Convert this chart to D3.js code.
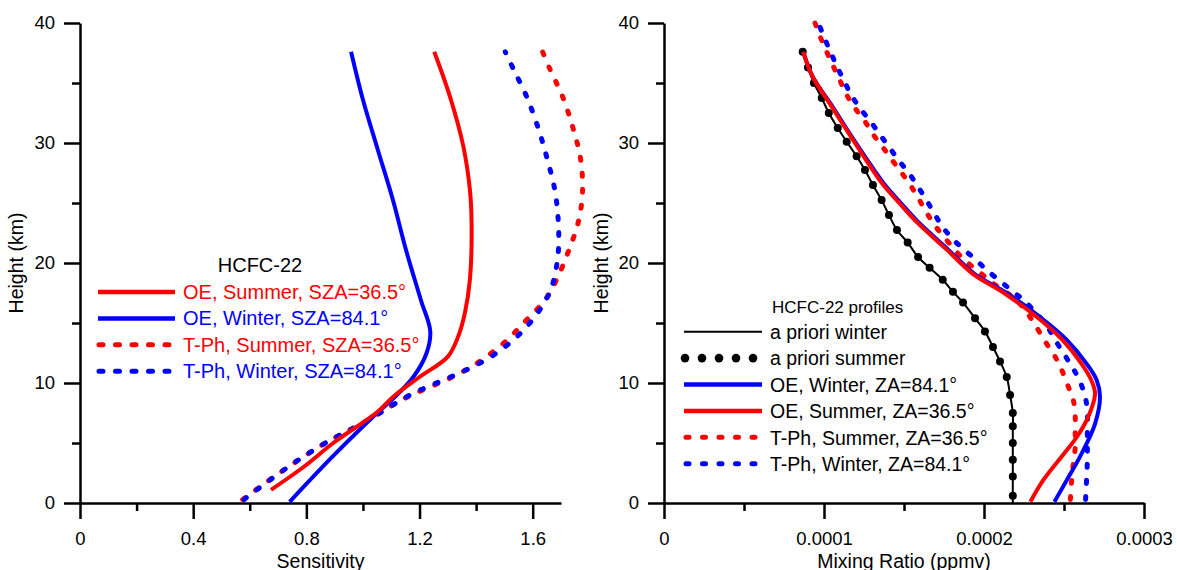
<!DOCTYPE html>
<html>
<head>
<meta charset="utf-8">
<script src="https://cdn.jsdelivr.net/npm/d3@7"></script>
<style>
  body { margin: 0; background: #fff; }
  svg { font-family: Arial, "Liberation Sans", sans-serif; }
</style>
</head>
<body>
<svg id="chart" width="1177" height="570"></svg>
<script>
// ---- left panel: sensitivity profiles, [height km, sensitivity]
const sensOESummer = [[1.1,0.675],[3,0.79],[5,0.895],[7.6,1.052],[8.86,1.107],[10.5,1.2],[12.2,1.3],[13.9,1.337],[15.8,1.36],[18.6,1.378],[23.3,1.384],[26.1,1.378],[29.7,1.355],[33.9,1.307],[37.6,1.252]];
const sensOEWinter = [[0.1,0.741],[3.9,0.894],[7.5,1.05],[8.7,1.107],[10.5,1.178],[12.5,1.225],[14.3,1.238],[16.9,1.205],[21.1,1.152],[25.25,1.106],[29.4,1.053],[33.6,1.0],[37.6,0.958]];
const sensTPhSummer = [[0.3,0.575],[2.75,0.72],[4.9,0.86],[6.8,1.01],[8.75,1.15],[10.4,1.307],[11.6,1.4],[13.3,1.496],[15.25,1.578],[16.9,1.643],[18.6,1.684],[20.9,1.725],[23.4,1.761],[25.9,1.776],[28.7,1.769],[31.2,1.743],[33.9,1.705],[36.2,1.66],[37.6,1.635]];
const sensTPhWinter = [[0.3,0.58],[2.75,0.72],[4.9,0.86],[6.8,1.01],[9,1.166],[10,1.26],[11.1,1.366],[12.3,1.46],[14.1,1.555],[16.1,1.625],[18,1.667],[20.8,1.69],[23.6,1.69],[26.1,1.678],[28.7,1.651],[31.2,1.62],[33.9,1.578],[36.2,1.531],[37.6,1.503]];

// ---- right panel: mixing ratio profiles, [height km, ppmv]
const aprioriWinter = [[0,2.18e-4],[2.75,2.18e-4],[4.4,2.18e-4],[5.9,2.18e-4],[7.5,2.18e-4],[9,2.163e-4],[10.5,2.142e-4],[11.8,2.1e-4],[13,2.056e-4],[14.3,2.006e-4],[15.4,1.944e-4],[16.7,1.869e-4],[17.6,1.806e-4],[18.6,1.742e-4],[19.6,1.66e-4],[20.5,1.588e-4],[21.7,1.523e-4],[22.75,1.456e-4],[24,1.406e-4],[25.25,1.36e-4],[26.5,1.306e-4],[27.75,1.256e-4],[28.9,1.204e-4],[30.1,1.142e-4],[31.25,1.086e-4],[32.5,1.03e-4],[33.75,0.986e-4],[35,0.937e-4],[36.3,0.9e-4],[37.6,0.867e-4]];
const aprioriSummer = [[0.6,2.18e-4],[2.2,2.18e-4],[3.6,2.18e-4],[5,2.18e-4],[6.4,2.18e-4],[7.5,2.18e-4],[9,2.163e-4],[10.5,2.142e-4],[11.8,2.1e-4],[13,2.056e-4],[14.3,2.006e-4],[15.4,1.944e-4],[16.7,1.869e-4],[17.6,1.806e-4],[18.6,1.742e-4],[19.6,1.66e-4],[20.5,1.588e-4],[21.7,1.523e-4],[22.75,1.456e-4],[24,1.406e-4],[25.25,1.36e-4],[26.5,1.306e-4],[27.75,1.256e-4],[28.9,1.204e-4],[30.1,1.142e-4],[31.25,1.086e-4],[32.5,1.03e-4],[33.75,0.986e-4],[35,0.937e-4],[36.3,0.9e-4],[37.6,0.867e-4]];
const mixOEWinter = [[0.1,2.44e-4],[1.9,2.517e-4],[3.86,2.6e-4],[6.6,2.694e-4],[8.86,2.725e-4],[10.25,2.704e-4],[11.6,2.642e-4],[13.6,2.517e-4],[15.5,2.35e-4],[17.5,2.142e-4],[19.1,1.94e-4],[21.2,1.77e-4],[23.4,1.59e-4],[25,1.48e-4],[26.6,1.375e-4],[28.6,1.27e-4],[30.7,1.165e-4],[33.3,1.04e-4],[35.5,0.93e-4],[37.6,0.87e-4]];
const mixOESummer = [[0.1,2.29e-4],[1.9,2.37e-4],[4.4,2.517e-4],[5.5,2.58e-4],[7.2,2.652e-4],[9.1,2.694e-4],[10.25,2.67e-4],[11.6,2.61e-4],[13.6,2.49e-4],[15.5,2.33e-4],[17.5,2.125e-4],[19.1,1.93e-4],[21.2,1.76e-4],[23.4,1.58e-4],[25,1.47e-4],[26.6,1.365e-4],[28.6,1.262e-4],[30.7,1.16e-4],[33.3,1.035e-4],[35.5,0.93e-4],[37.6,0.87e-4]];
const mixTPhSummer = [[0.3,2.54e-4],[1.9,2.548e-4],[3.3,2.558e-4],[4.6,2.57e-4],[5.8,2.57e-4],[7.2,2.57e-4],[8.6,2.558e-4],[9.7,2.527e-4],[11.1,2.485e-4],[12.2,2.444e-4],[13.3,2.39e-4],[14.4,2.34e-4],[15.7,2.277e-4],[16.9,2.204e-4],[18.3,2.058e-4],[19.2,1.975e-4],[20,1.9e-4],[20.9,1.83e-4],[21.9,1.767e-4],[23,1.7e-4],[24.05,1.648e-4],[25.25,1.596e-4],[26.4,1.544e-4],[27.5,1.486e-4],[28.5,1.43e-4],[29.6,1.37e-4],[30.7,1.308e-4],[31.8,1.256e-4],[32.9,1.194e-4],[34,1.142e-4],[35.2,1.1e-4],[36.4,1.058e-4],[37.6,1.017e-4],[38.9,0.975e-4],[40,0.944e-4]];
const mixTPhWinter = [[0.3,2.635e-4],[2.2,2.642e-4],[3.6,2.646e-4],[5,2.646e-4],[6.2,2.646e-4],[7.6,2.646e-4],[9,2.63e-4],[10.4,2.59e-4],[11.4,2.548e-4],[12.5,2.496e-4],[13.6,2.444e-4],[14.8,2.39e-4],[16.8,2.256e-4],[17.6,2.183e-4],[19.3,2.027e-4],[20.25,1.95e-4],[21.1,1.877e-4],[22,1.804e-4],[23,1.742e-4],[24.1,1.69e-4],[25.3,1.638e-4],[26.4,1.585e-4],[27.5,1.53e-4],[28.5,1.47e-4],[29.6,1.41e-4],[30.7,1.35e-4],[31.8,1.29e-4],[32.9,1.225e-4],[34,1.17e-4],[35.2,1.125e-4],[36.4,1.08e-4],[37.6,1.04e-4],[38.9,0.998e-4],[40,0.965e-4]];

// ---- ticks
const heightMajor = [0, 10, 20, 30, 40];
const heightMinor = [5, 15, 25, 35];
const sensMajor = [0, 0.4, 0.8, 1.2, 1.6];
const sensMinor = [0.2, 0.6, 1.0, 1.4];
const mixMajor = [0, 0.0001, 0.0002, 0.0003];
const mixMinor = [0.00005, 0.00015, 0.00025];

const RED = '#ff0000';
const BLUE = '#0000ff';
const DOT = '3,13';

const svg = d3.select('#chart');

const yScale = d3.scaleLinear().domain([0, 40]).range([503, 23]);
const sensScale = d3.scaleLinear().domain([0, 1.7]).range([80, 561]);
const mixScale = d3.scaleLinear().domain([0, 0.0003]).range([664, 1144]);

const drawAxes = (xScale, xMaj, xMin, x0, title, titleX) => {
  const yMajAxis = d3.axisLeft(yScale).tickValues(heightMajor).tickSize(16).tickSizeOuter(0).tickPadding(9);
  const yMinAxis = d3.axisLeft(yScale).tickValues(heightMinor).tickSize(8).tickFormat('');
  const xMajAxis = d3.axisBottom(xScale).tickValues(xMaj).tickSize(16).tickSizeOuter(0).tickPadding(13).tickFormat(d => String(d));
  const xMinAxis = d3.axisBottom(xScale).tickValues(xMin).tickSize(8).tickFormat('');

  const g = svg.append('g');
  g.append('g').attr('transform', `translate(${x0},0)`).call(yMajAxis);
  g.append('g').attr('transform', `translate(${x0},0)`).call(yMinAxis).select('.domain').remove();
  g.append('g').attr('transform', 'translate(0,503)').call(xMajAxis);
  g.append('g').attr('transform', 'translate(0,503)').call(xMinAxis).select('.domain').remove();

  g.selectAll('.domain, .tick line').attr('stroke', '#000').attr('stroke-width', 2.5);
  g.selectAll('.tick text')
    .attr('font-size', 18.5)
    .attr('font-family', 'Arial, "Liberation Sans", sans-serif')
    .attr('fill', '#000');

  const [r0, r1] = xScale.range();
  g.append('text')
    .text(title)
    .attr('x', (r0 + r1) / 2)
    .attr('y', 568)
    .attr('text-anchor', 'middle')
    .attr('font-size', 19.5);
  g.append('text')
    .text('Height (km)')
    .attr('transform', `translate(${titleX},263) rotate(-90)`)
    .attr('text-anchor', 'middle')
    .attr('font-size', 19.5);
};

drawAxes(sensScale, sensMajor, sensMinor, 80, 'Sensitivity', 23);
drawAxes(mixScale, mixMajor, mixMinor, 664, 'Mixing Ratio (ppmv)', 608);

const curve = d3.curveCatmullRom.alpha(0.5);
const lineFor = xScale => d3.line().x(d => xScale(d[1])).y(d => yScale(d[0])).curve(curve);

const drawSeries = (data, xScale, color, width, dash) => {
  const p = svg.append('path')
    .datum(data)
    .attr('d', lineFor(xScale))
    .attr('fill', 'none')
    .attr('stroke', color)
    .attr('stroke-width', width)
    .attr('stroke-linejoin', 'round');
  if (dash) p.attr('stroke-dasharray', dash).attr('stroke-linecap', 'round');
};

// left panel curves
drawSeries(sensTPhSummer, sensScale, RED, 5, DOT);
drawSeries(sensTPhWinter, sensScale, BLUE, 5, DOT);
drawSeries(sensOEWinter, sensScale, BLUE, 4);
drawSeries(sensOESummer, sensScale, RED, 4);

// right panel curves
drawSeries(aprioriWinter, mixScale, '#000', 2);
svg.append('g')
  .selectAll('circle')
  .data(aprioriSummer)
  .enter()
  .append('circle')
  .attr('cx', d => mixScale(d[1]))
  .attr('cy', d => yScale(d[0]))
  .attr('r', 4)
  .attr('fill', '#000');
drawSeries(mixTPhSummer, mixScale, RED, 5, DOT);
drawSeries(mixTPhWinter, mixScale, BLUE, 5, DOT);
drawSeries(mixOEWinter, mixScale, BLUE, 4);
drawSeries(mixOESummer, mixScale, RED, 4);

// ---- legends
const leftLegend = [
  { label: 'OE, Summer, SZA=36.5°', color: RED, dash: null },
  { label: 'OE, Winter, SZA=84.1°', color: BLUE, dash: null },
  { label: 'T-Ph, Summer, SZA=36.5°', color: RED, dash: DOT },
  { label: 'T-Ph, Winter, SZA=84.1°', color: BLUE, dash: DOT }
];
const rightLegend = [
  { label: 'a priori winter', color: '#000', kind: 'thin' },
  { label: 'a priori summer', color: '#000', kind: 'dots' },
  { label: 'OE, Winter, ZA=84.1°', color: BLUE, kind: 'solid' },
  { label: 'OE, Summer, ZA=36.5°', color: RED, kind: 'solid' },
  { label: 'T-Ph, Summer, ZA=36.5°', color: RED, kind: 'dash' },
  { label: 'T-Ph, Winter, ZA=84.1°', color: BLUE, kind: 'dash' }
];

const lg = svg.append('g').attr('id', 'left-legend');
lg.append('text').text('HCFC-22').attr('x', 260).attr('y', 272).attr('text-anchor', 'middle').attr('font-size', 20);
leftLegend.forEach((d, i) => {
  const y = 292 + i * 26.4;
  const l = lg.append('line')
    .attr('x1', d.dash ? 99 : 98).attr('x2', 175).attr('y1', y).attr('y2', y)
    .attr('stroke', d.color).attr('stroke-width', d.dash ? 5 : 4.5);
  if (d.dash) l.attr('stroke-dasharray', '4,12.5').attr('stroke-linecap', 'round');
  lg.append('text').text(d.label).attr('x', 183).attr('y', y + 6.8).attr('font-size', 20).attr('fill', d.color);
});

const rg = svg.append('g').attr('id', 'right-legend');
rg.append('text').text('HCFC-22 profiles').attr('x', 772).attr('y', 312.5).attr('font-size', 17);
rightLegend.forEach((d, i) => {
  const y = 331.7 + i * 26.4;
  if (d.kind === 'dots') {
    rg.selectAll(null)
      .data(d3.range(5))
      .enter()
      .append('circle')
      .attr('cx', k => 685 + k * 17)
      .attr('cy', y)
      .attr('r', 4.3)
      .attr('fill', d.color);
  } else {
    const l = rg.append('line')
      .attr('x1', d.kind === 'dash' ? 686 : 684).attr('x2', 762).attr('y1', y).attr('y2', y)
      .attr('stroke', d.color)
      .attr('stroke-width', d.kind === 'thin' ? 2 : d.kind === 'dash' ? 5 : 4.5);
    if (d.kind === 'dash') l.attr('stroke-dasharray', '3,13.5').attr('stroke-linecap', 'round');
  }
  rg.append('text').text(d.label).attr('x', 770).attr('y', y + 7.2).attr('font-size', 19.5).attr('fill', '#000');
});
</script>
</body>
</html>
